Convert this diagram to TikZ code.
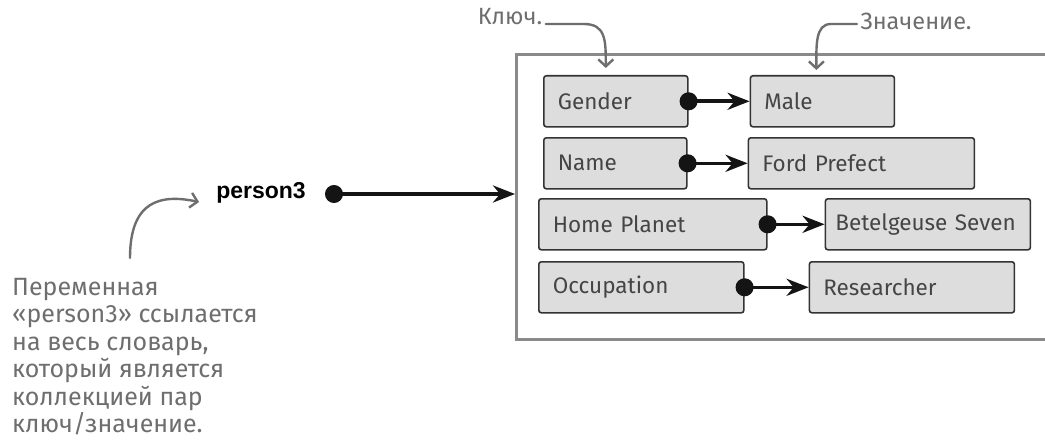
\documentclass[tikz,border=0pt]{standalone}
\usepackage{fontspec}
\setmainfont{Fira Sans}
\newfontfamily\varfont{Liberation Sans}
\usepackage{tikz}
\usetikzlibrary{arrows.meta,positioning}
\usepackage{xcolor}
\definecolor{notegray}{HTML}{6E6E6E}
\definecolor{dictgray}{HTML}{8A8A8A}
\definecolor{keyfill}{HTML}{DDDDDD}
\definecolor{keydraw}{HTML}{333333}
\definecolor{keytext}{HTML}{454545}

\begin{document}
\begin{tikzpicture}[x=1pt, y=-1pt, every node/.style={font=\fontsize{22.5}{26}\selectfont}, keybox/.style={rectangle, rounded corners=2.5pt, draw=keydraw, line width=1.6pt, fill=keyfill, text=keytext, align=left, minimum height=51pt, inner xsep=14pt, anchor=north west}, dictbox/.style={rectangle, draw=dictgray, line width=2.6pt, minimum width=545pt, minimum height=285pt, anchor=north west}, note/.style={text=notegray, font=\fontsize{23.5}{27.5}\selectfont}, notearrow/.style={draw=notegray, line width=2.4pt, line cap=round, -{Straight Barb[length=7pt, width=15pt, line width=2.4pt]}}, link/.style={line width=3.6pt, draw=black!92, {Circle[length=18pt]}-{Stealth[length=22pt, width=17pt, inset=7pt]}, shorten <=-9pt}]
\useasboundingbox (0,0) rectangle (1045,444);
% dictionary frame and the variable
\node[dictbox] (dict) at (515,53) {};
\node[font=\varfont\bfseries\fontsize{23}{26}\selectfont, inner sep=0pt] (person3) at (261,193) {person3};
\coordinate (p3dot) at (334,194);
\draw[link] (p3dot) -- (p3dot -| dict.west);
% key/value pairs
\node[keybox, text width=116pt] (gender) at (543,75) {Gender};
\node[keybox, text width=116pt, right=61pt of gender] (male) {Male};
\node[keybox, text width=115pt] (name) at (543,137) {Name};
\node[keybox, text width=198pt, right=60pt of name] (fordprefect) {Ford Prefect};
\node[keybox, text width=200pt] (homeplanet) at (538,198) {Home Planet};
\node[keybox, right=57pt of homeplanet, inner xsep=10pt, text width=185pt] (betelgeuse) {Betelgeuse Seven};
\node[keybox, text width=177pt] (occupation) at (538,261) {Occupation};
\node[keybox, text width=177pt, right=64pt of occupation] (researcher) {Researcher};
\draw[link] (gender.east) -- (male.west);
\draw[link] (name.east) -- (fordprefect.west);
\draw[link] (homeplanet.east) -- (betelgeuse.west);
\draw[link] (occupation.east) -- (researcher.west);
% notes
\node[note] (keylbl) at (510,17) {Ключ.};
\node[note] (vallbl) at (916,21) {Значение.};
\node[note, font=\fontsize{25}{27.5}\selectfont, align=left, anchor=north west, inner sep=0pt] (varnote) at (12,278) {Переменная\\«person3» ссылается\\на весь словарь,\\который является\\коллекцией пар\\ключ/значение.};
\draw[notearrow] ([yshift=-7pt]keylbl.east) -- ++(38,0) .. controls +(22,0) and +(0,-28) .. ([xshift=-10pt, yshift=7pt]gender.north);
\draw[notearrow] ([yshift=-3pt]vallbl.west) -- ++(-26,0) .. controls +(-16,0) and +(0,-24) .. ([xshift=-6pt, yshift=5pt]male.north);
\draw[notearrow] ([xshift=118pt, yshift=20pt]varnote.north west) .. controls +(0,-58) and +(-38,-8) .. ([xshift=-17pt, yshift=-9pt]person3.west);
\end{tikzpicture}
\end{document}
